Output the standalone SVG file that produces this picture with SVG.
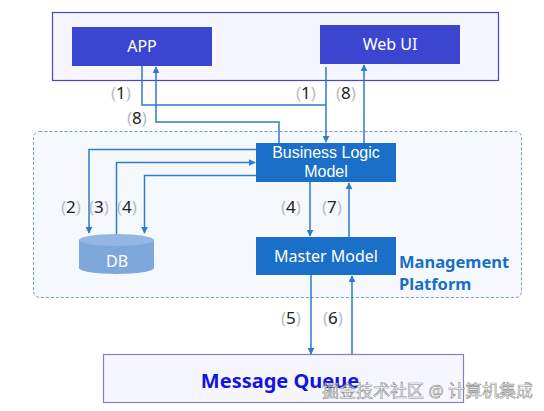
<svg xmlns="http://www.w3.org/2000/svg" width="544" height="411" viewBox="0 0 544 411">
<defs>
<style>
.lbl{font-family:"Noto Sans","Liberation Sans",sans-serif;font-size:17px;fill:#222;}
.br{fill:#b8bcc8;}
.wt{font-family:"Noto Sans","Liberation Sans",sans-serif;font-size:16px;fill:#fff;text-anchor:middle;}
.ln{fill:none;stroke:#2e7bc8;stroke-width:1.5;}
</style>
<marker id="ah" viewBox="0 0 10 10" refX="9" refY="5" markerWidth="7" markerHeight="7" markerUnits="userSpaceOnUse" orient="auto">
<path d="M0,0 L10,5 L0,10 z" fill="#2e7bc8"/>
</marker>
</defs>
<rect width="544" height="411" fill="#fff"/>
<g id="client-area">
<rect x="52.5" y="12.5" width="446" height="68" fill="#f6f6fe" stroke="#4848c8" stroke-width="1.2"/>
</g>
<g id="management-platform">
<rect x="33.5" y="131.5" width="488" height="166" rx="6" fill="#f5f8fc" stroke="#7a9cc8" stroke-width="1" stroke-dasharray="3,2"/>
<text x="399" y="268" font-family="'Noto Sans','Liberation Sans',sans-serif" font-size="16.5" font-weight="bold" fill="#1a6fc4">Management</text>
<text x="399" y="290" font-family="'Noto Sans','Liberation Sans',sans-serif" font-size="16.5" font-weight="bold" fill="#1a6fc4">Platform</text>
</g>
<g id="app">
<rect x="72" y="27" width="140" height="39" fill="#3b45d0"/>
<text class="wt" x="142" y="52">APP</text>
</g>
<g id="webui">
<rect x="320" y="25" width="140" height="39" fill="#3b45d0"/>
<text class="wt" x="390" y="50">Web UI</text>
</g>
<g id="blm">
<rect x="256" y="143" width="140" height="39" fill="#1a6fc8"/>
<text class="wt" x="326" y="158" style="font-family:'Liberation Sans',sans-serif;font-size:16px">Business Logic</text>
<text class="wt" x="326" y="177" style="font-family:'Liberation Sans',sans-serif;font-size:16px">Model</text>
</g>
<g id="master">
<rect x="256" y="237" width="140" height="38" fill="#1a6fc8"/>
<text class="wt" x="326" y="262">Master Model</text>
</g>
<g id="db">
<path d="M79,240 L79,268 A37.5,6 0 0 0 154,268 L154,240 Z" fill="#7ea8dc"/>
<ellipse cx="116.5" cy="240" rx="37.5" ry="6" fill="#94b6e2"/>
<text class="wt" x="117" y="267">DB</text>
</g>
<g id="mq">
<rect x="103.5" y="354.5" width="360" height="48" fill="#f6f6fe" stroke="#8080cc" stroke-width="1.2"/>
<text x="280" y="388" font-family="'Noto Sans','Liberation Sans',sans-serif" font-size="20" font-weight="bold" fill="#1414e0" text-anchor="middle">Message Queue</text>
</g>
<g id="connectors">
<polyline class="ln" points="142,66 142,105 326,105"/>
<polyline class="ln" points="326,67 326,142" marker-end="url(#ah)"/>
<polyline class="ln" points="279,143 279,122 156,122 156,67" marker-end="url(#ah)"/>
<polyline class="ln" points="364,143 364,65" marker-end="url(#ah)"/>
<polyline class="ln" points="256,149.5 89,149.5 89,233" marker-end="url(#ah)"/>
<polyline class="ln" points="116.5,234 116.5,162.5 255,162.5" marker-end="url(#ah)"/>
<polyline class="ln" points="256,175.5 144.5,175.5 144.5,233" marker-end="url(#ah)"/>
<polyline class="ln" points="310,182 310,236" marker-end="url(#ah)"/>
<polyline class="ln" points="349,237 349,183" marker-end="url(#ah)"/>
<polyline class="ln" points="311,275 311,354" marker-end="url(#ah)"/>
<polyline class="ln" points="352,354 352,276" marker-end="url(#ah)"/>
</g>
<g id="labels">
<text class="lbl" x="111" y="99"><tspan class="br">(</tspan>1<tspan class="br">)</tspan></text>
<text class="lbl" x="296" y="99"><tspan class="br">(</tspan>1<tspan class="br">)</tspan></text>
<text class="lbl" x="336" y="99"><tspan class="br">(</tspan>8<tspan class="br">)</tspan></text>
<text class="lbl" x="127" y="124"><tspan class="br">(</tspan>8<tspan class="br">)</tspan></text>
<text class="lbl" x="61" y="213"><tspan class="br">(</tspan>2<tspan class="br">)</tspan></text>
<text class="lbl" x="89" y="213"><tspan class="br">(</tspan>3<tspan class="br">)</tspan></text>
<text class="lbl" x="117" y="213"><tspan class="br">(</tspan>4<tspan class="br">)</tspan></text>
<text class="lbl" x="281" y="213"><tspan class="br">(</tspan>4<tspan class="br">)</tspan></text>
<text class="lbl" x="322" y="213"><tspan class="br">(</tspan>7<tspan class="br">)</tspan></text>
<text class="lbl" x="281" y="324"><tspan class="br">(</tspan>5<tspan class="br">)</tspan></text>
<text class="lbl" x="323" y="324"><tspan class="br">(</tspan>6<tspan class="br">)</tspan></text>
</g>
<text x="322" y="397" font-family="'Noto Sans','Liberation Sans','Noto Sans CJK SC',sans-serif" font-size="17" fill="#ffffff" fill-opacity="0.75" stroke="#555" stroke-width="0.6" stroke-opacity="0.7">掘金技术社区 @ 计算机集成</text>
</svg>
